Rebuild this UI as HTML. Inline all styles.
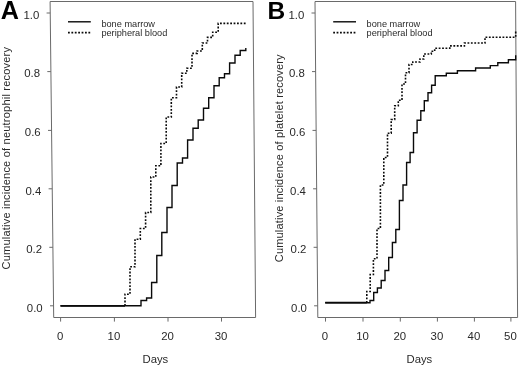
<!DOCTYPE html>
<html><head><meta charset="utf-8"><title>Cumulative incidence</title>
<style>
html,body{margin:0;padding:0;background:#fff;}
body{width:520px;height:367px;overflow:hidden;font-family:"Liberation Sans",sans-serif;}
svg{display:block;will-change:transform;}
text{font-family:"Liberation Sans",sans-serif;fill:#2a2a2a;}
.t{font-size:11.4px;}
.a{font-size:11px;}
.l{font-size:9.2px;}
.P{font-size:24px;font-weight:bold;fill:#000;}
.s{fill:none;stroke:#0a0a0a;stroke-width:1.4;stroke-linejoin:miter;}
.d{fill:none;stroke:#0a0a0a;stroke-width:1.6;stroke-dasharray:1.8 1.6;}
</style></head><body>
<svg width="520" height="367" viewBox="0 0 520 367">
<rect width="520" height="367" fill="#fff"/>
<path d="M50.1,1.5L253,1.5L255.6,317.5L53.7,317.5Z" fill="none" stroke="#6a6a6a" stroke-width="1"/>
<path d="M315,1.5L515.6,1.5L517.6,317.5L317.8,317.5Z" fill="none" stroke="#6a6a6a" stroke-width="1"/>
<path d="M46.6,13H50.2" stroke="#6a6a6a" stroke-width="1"/>
<text x="39.3" y="18.8" text-anchor="end" class="t">1.0</text>
<path d="M47.3,71.6H50.9" stroke="#6a6a6a" stroke-width="1"/>
<text x="40.0" y="77.4" text-anchor="end" class="t">0.8</text>
<path d="M48.0,130.4H51.6" stroke="#6a6a6a" stroke-width="1"/>
<text x="40.7" y="136.2" text-anchor="end" class="t">0.6</text>
<path d="M48.6,188.8H52.2" stroke="#6a6a6a" stroke-width="1"/>
<text x="41.3" y="194.6" text-anchor="end" class="t">0.4</text>
<path d="M49.3,247.3H52.9" stroke="#6a6a6a" stroke-width="1"/>
<text x="42.0" y="253.1" text-anchor="end" class="t">0.2</text>
<path d="M50.0,305.8H53.6" stroke="#6a6a6a" stroke-width="1"/>
<text x="42.7" y="311.6" text-anchor="end" class="t">0.0</text>
<path d="M311.5,13H315.1" stroke="#6a6a6a" stroke-width="1"/>
<text x="304.3" y="18.8" text-anchor="end" class="t">1.0</text>
<path d="M312.0,71.6H315.6" stroke="#6a6a6a" stroke-width="1"/>
<text x="304.8" y="77.4" text-anchor="end" class="t">0.8</text>
<path d="M312.5,130.4H316.1" stroke="#6a6a6a" stroke-width="1"/>
<text x="305.3" y="136.2" text-anchor="end" class="t">0.6</text>
<path d="M313.1,188.8H316.7" stroke="#6a6a6a" stroke-width="1"/>
<text x="305.9" y="194.6" text-anchor="end" class="t">0.4</text>
<path d="M313.6,247.3H317.2" stroke="#6a6a6a" stroke-width="1"/>
<text x="306.4" y="253.1" text-anchor="end" class="t">0.2</text>
<path d="M314.1,305.8H317.7" stroke="#6a6a6a" stroke-width="1"/>
<text x="306.9" y="311.6" text-anchor="end" class="t">0.0</text>
<path d="M60.6,317.5V321.6" stroke="#6a6a6a" stroke-width="1"/>
<text x="60.1" y="339.6" text-anchor="middle" class="t">0</text>
<path d="M114.4,317.5V321.6" stroke="#6a6a6a" stroke-width="1"/>
<text x="113.9" y="339.6" text-anchor="middle" class="t">10</text>
<path d="M168,317.5V321.6" stroke="#6a6a6a" stroke-width="1"/>
<text x="167.5" y="339.6" text-anchor="middle" class="t">20</text>
<path d="M221.5,317.5V321.6" stroke="#6a6a6a" stroke-width="1"/>
<text x="221.0" y="339.6" text-anchor="middle" class="t">30</text>
<path d="M325.5,317.5V321.6" stroke="#6a6a6a" stroke-width="1"/>
<text x="325.0" y="339.6" text-anchor="middle" class="t">0</text>
<path d="M363,317.5V321.6" stroke="#6a6a6a" stroke-width="1"/>
<text x="362.5" y="339.6" text-anchor="middle" class="t">10</text>
<path d="M400.3,317.5V321.6" stroke="#6a6a6a" stroke-width="1"/>
<text x="399.8" y="339.6" text-anchor="middle" class="t">20</text>
<path d="M437.4,317.5V321.6" stroke="#6a6a6a" stroke-width="1"/>
<text x="436.9" y="339.6" text-anchor="middle" class="t">30</text>
<path d="M474.4,317.5V321.6" stroke="#6a6a6a" stroke-width="1"/>
<text x="473.9" y="339.6" text-anchor="middle" class="t">40</text>
<path d="M510.9,317.5V321.6" stroke="#6a6a6a" stroke-width="1"/>
<text x="510.4" y="339.6" text-anchor="middle" class="t">50</text>
<text x="155.4" y="363.3" text-anchor="middle" class="a" style="font-size:11.3px">Days</text>
<text x="419.4" y="363.1" text-anchor="middle" class="a" style="font-size:11.3px">Days</text>
<text transform="translate(10.3,269.4) rotate(-90)" textLength="222.4" lengthAdjust="spacing" class="a">Cumulative incidence of neutrophil recovery</text>
<text transform="translate(283.4,262.2) rotate(-90)" textLength="207.8" lengthAdjust="spacing" class="a">Cumulative incidence of platelet recovery</text>
<text x="0.8" y="19" class="P" style="font-size:25.2px">A</text>
<text x="267.4" y="19.1" class="P" style="font-size:24.5px">B</text>
<path d="M68,21.8H90.8" class="s"/>
<path d="M68,32.6H90.8" class="d"/>
<text x="101.4" y="26.7" class="l">bone marrow</text>
<text x="101.4" y="36.3" class="l">peripheral blood</text>
<path d="M333.2,21.8H356.0" class="s"/>
<path d="M333.2,32.6H356.0" class="d"/>
<text x="366.6" y="26.7" class="l">bone marrow</text>
<text x="366.6" y="36.3" class="l">peripheral blood</text>
<path d="M60.5,305.8H125" class="s" style="stroke-width:1.7"/>
<path d="M325.2,302.7H366.8" class="s" style="stroke-width:1.7"/>
<path d="M60.5,305.8H141V300.5H146.6V298H151.6V282.5H156.8V255.5H161.8V232.5H167V207.5H172V185.5H177.2V163H182.5V158H187.6V140H193V128.2H198.2V120H203.5V108.2H208.7V97.8H214V85.8H219.2V77.8H224.5V73.8H229.6V63H235V55.2H240.2V50.5H245.8V48" class="s"/>
<path d="M125,305.8H125V294.2H130V266.8H135V239.2H140.3V228.5H145.6V212.5H150.8V177H155.8V165.8H160.9V143.5H166.2V117H171.3V97.8H176.5V87H181.7V73.3H186.8V68.2H192V53.4H197.1V51H202.3V43H207.5V37.4H212.7V32.2H218.2V23.4H246" class="d"/>
<path d="M325.2,302.7H370V300.5H373.7V292.5H377.4V288H381.2V280.5H385V270.5H388.7V257.5H392.4V242.5H395.8V229.5H399.4V200.5H403V185H406.6V162.5H410.1V152.5H413.5V132.8H417.1V120.2H420.8V110.8H424.3V100.8H428V92.8H431.6V85.3H435.2V75.7H446.3V73.2H457.4V70.7H475.6V68H490.3V65.6H497.8V62.8H508.4V59.8H515.7V55.2" class="s"/>
<path d="M366.8,302.7H366.8V291.5H370.2V274.5H373.4V258.7H377V228.5H380.4V185H383.8V157.5H387.5V133.2H391.2V119.5H394.7V105.8H398.3V100.2H402V84H405.5V72.8H409V64.5H412.8V62H420V59H423.8V54H431.3V51.2H434.7V48.2H449.8V45.9H464.4V43H485V37.2H515.7V30.7" class="d"/>
</svg>
</body></html>
